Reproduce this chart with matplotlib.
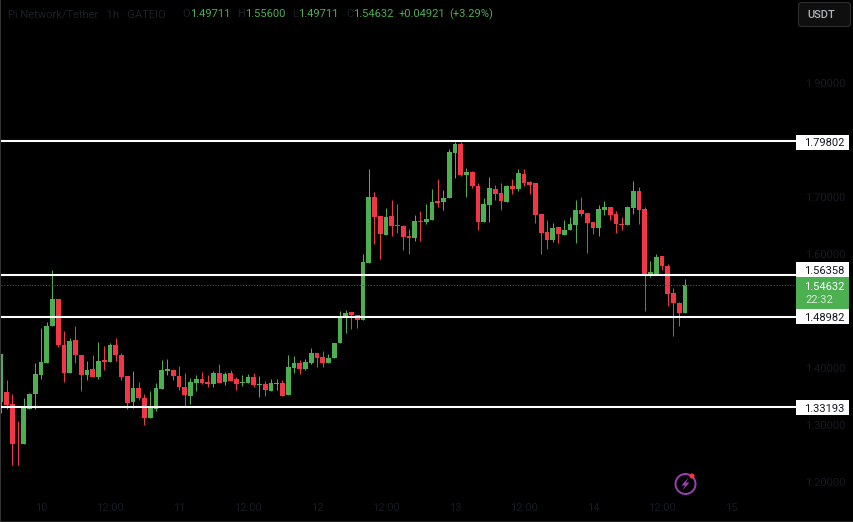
import matplotlib
matplotlib.use("Agg")
import matplotlib.pyplot as plt
import matplotlib.transforms as mtransforms
from matplotlib.patches import Circle, FancyBboxPatch, Polygon, Rectangle

# Hourly candles, first one is the 9th at 17:00
opens = [1.340, 1.357, 1.337, 1.269, 1.266, 1.328, 1.354, 1.388, 1.409, 1.473,
         1.522, 1.440, 1.392, 1.449, 1.422, 1.388, 1.398, 1.384, 1.414, 1.410,
         1.440, 1.422, 1.386, 1.340, 1.365, 1.347, 1.312, 1.328, 1.363, 1.395,
         1.396, 1.386, 1.367, 1.351, 1.374, 1.381, 1.375, 1.372, 1.391, 1.375,
         1.391, 1.381, 1.373, 1.374, 1.384, 1.370, 1.372, 1.360, 1.372, 1.374,
         1.352, 1.400, 1.409, 1.398, 1.409, 1.426, 1.419, 1.409, 1.418, 1.444,
         1.489, 1.498, 1.493, 1.484, 1.585, 1.700, 1.667, 1.634, 1.667, 1.651,
         1.650, 1.632, 1.628, 1.658, 1.657, 1.660, 1.693, 1.691, 1.698, 1.777,
         1.794, 1.740, 1.744, 1.720, 1.656, 1.686, 1.715, 1.708, 1.692, 1.720,
         1.715, 1.741, 1.726, 1.725, 1.670, 1.639, 1.625, 1.648, 1.634, 1.642,
         1.651, 1.678, 1.672, 1.657, 1.646, 1.678, 1.683, 1.671, 1.653, 1.651,
         1.681, 1.711, 1.679, 1.563, 1.566, 1.597, 1.579, 1.532, 1.515, 1.49711]
highs = [1.425, 1.379, 1.354, 1.306, 1.348, 1.356, 1.409, 1.470, 1.481, 1.572,
         1.522, 1.465, 1.453, 1.474, 1.423, 1.412, 1.422, 1.445, 1.439, 1.443,
         1.452, 1.426, 1.386, 1.395, 1.376, 1.354, 1.360, 1.373, 1.414, 1.416,
         1.398, 1.403, 1.391, 1.382, 1.388, 1.393, 1.388, 1.395, 1.407, 1.393,
         1.397, 1.384, 1.388, 1.389, 1.391, 1.386, 1.377, 1.381, 1.381, 1.379,
         1.423, 1.421, 1.414, 1.416, 1.435, 1.427, 1.430, 1.425, 1.444, 1.500,
         1.502, 1.498, 1.493, 1.600, 1.750, 1.709, 1.667, 1.681, 1.695, 1.688,
         1.651, 1.644, 1.669, 1.676, 1.688, 1.715, 1.732, 1.713, 1.785, 1.798,
         1.798, 1.751, 1.746, 1.725, 1.698, 1.735, 1.722, 1.725, 1.722, 1.732,
         1.750, 1.750, 1.729, 1.725, 1.670, 1.660, 1.655, 1.648, 1.660, 1.665,
         1.695, 1.700, 1.672, 1.657, 1.686, 1.693, 1.683, 1.676, 1.665, 1.685,
         1.729, 1.718, 1.683, 1.588, 1.600, 1.597, 1.583, 1.541, 1.516, 1.55600]
lows = [1.321, 1.328, 1.230, 1.230, 1.266, 1.328, 1.328, 1.381, 1.409, 1.473,
        1.436, 1.376, 1.392, 1.408, 1.360, 1.378, 1.384, 1.381, 1.396, 1.410,
        1.412, 1.378, 1.328, 1.330, 1.344, 1.300, 1.312, 1.325, 1.363, 1.388,
        1.379, 1.361, 1.332, 1.337, 1.360, 1.372, 1.367, 1.367, 1.374, 1.370,
        1.377, 1.362, 1.368, 1.374, 1.367, 1.349, 1.351, 1.360, 1.361, 1.351,
        1.352, 1.391, 1.389, 1.396, 1.407, 1.402, 1.402, 1.409, 1.418, 1.444,
        1.461, 1.469, 1.471, 1.484, 1.585, 1.618, 1.592, 1.634, 1.632, 1.637,
        1.607, 1.600, 1.623, 1.623, 1.653, 1.660, 1.683, 1.678, 1.698, 1.734,
        1.737, 1.700, 1.716, 1.642, 1.656, 1.657, 1.695, 1.678, 1.692, 1.706,
        1.711, 1.720, 1.705, 1.655, 1.600, 1.609, 1.621, 1.620, 1.634, 1.642,
        1.620, 1.667, 1.602, 1.635, 1.632, 1.669, 1.660, 1.637, 1.642, 1.651,
        1.671, 1.653, 1.500, 1.560, 1.563, 1.572, 1.509, 1.456, 1.474, 1.49711]
closes = [1.425, 1.335, 1.266, 1.268, 1.331, 1.354, 1.389, 1.410, 1.474, 1.521,
          1.440, 1.392, 1.447, 1.422, 1.388, 1.397, 1.385, 1.412, 1.411, 1.440,
          1.422, 1.385, 1.339, 1.365, 1.347, 1.312, 1.330, 1.365, 1.396, 1.398,
          1.386, 1.367, 1.353, 1.375, 1.381, 1.374, 1.372, 1.391, 1.374, 1.389,
          1.377, 1.372, 1.375, 1.384, 1.370, 1.372, 1.361, 1.374, 1.374, 1.351,
          1.402, 1.409, 1.398, 1.410, 1.426, 1.418, 1.409, 1.418, 1.444, 1.490,
          1.497, 1.493, 1.484, 1.586, 1.700, 1.666, 1.635, 1.665, 1.650, 1.650,
          1.630, 1.628, 1.658, 1.657, 1.662, 1.692, 1.690, 1.699, 1.780, 1.794,
          1.740, 1.744, 1.720, 1.656, 1.688, 1.716, 1.706, 1.693, 1.719, 1.715,
          1.742, 1.725, 1.722, 1.669, 1.637, 1.625, 1.646, 1.635, 1.642, 1.653,
          1.678, 1.671, 1.655, 1.646, 1.679, 1.683, 1.669, 1.653, 1.651, 1.683,
          1.711, 1.678, 1.563, 1.569, 1.595, 1.579, 1.530, 1.514, 1.496, 1.54632]
first_hour = -7

levels = [1.79802, 1.56358, 1.48982, 1.33193]
last_price = 1.54632
countdown = "22:32"

price_ticks = [1.20, 1.30, 1.40, 1.60, 1.70, 1.90]
time_ticks = [0, 12, 24, 36, 48, 60, 72, 84, 96, 108, 120]
time_labels = ["10", "12:00", "11", "12:00", "12", "12:00", "13", "12:00", "14", "12:00", "15"]

GREEN = "#4caf50"
RED = "#f23645"
DIM = "#171a22"
FONT = "Roboto"
FS = 8.0

W, H = 854, 522
plt.rcParams["font.family"] = FONT
fig = plt.figure(figsize=(W / 100, H / 100), dpi=100, facecolor="black")

ax = fig.add_axes([0, 0, 1, 1], facecolor="black")
ax.set_xlim(-41 / 5.75, (W - 41) / 5.75)
ax.set_ylim(2.0467 - H * 0.0017575, 2.0467)
for s in ax.spines.values():
    s.set_visible(False)

ax.yaxis.tick_right()
ax.set_yticks(price_ticks)
ax.set_yticklabels(["%.5f" % p for p in price_ticks], color=DIM, fontsize=FS)
ax.tick_params(axis="y", length=0, pad=-35.5)
ax.set_xticks(time_ticks)
ax.set_xticklabels(time_labels, color=DIM, fontsize=FS)
ax.tick_params(axis="x", length=0, pad=-13.5)

# candles
for n in range(len(opens)):
    hour = first_hour + n
    col = GREEN if closes[n] >= opens[n] else RED
    ax.vlines(hour, lows[n], highs[n], color=col, lw=0.72, zorder=2)
    lo, hi = min(opens[n], closes[n]), max(opens[n], closes[n])
    ax.bar(hour, hi - lo, bottom=lo, width=0.8, color=col, linewidth=0, zorder=3)

# overlay in pixels for the scale boxes, header and icon
ov = fig.add_axes([0, 0, 1, 1], facecolor="none")
ov.set_xlim(0, W)
ov.set_ylim(H, 0)
ov.axis("off")
px_price = mtransforms.blended_transform_factory(ov.transData, ax.transData)

ov.add_patch(Rectangle((0, 0), 1, H, color="#333333", lw=0))
ov.add_patch(Rectangle((W - 1, 0), 1, H, color="#222222", lw=0))
ov.add_patch(Rectangle((0, H - 1), W, 1, color="#222222", lw=0))

ov.plot([1, 795], [last_price, last_price], color="#2c6b30", lw=0.8, ls=(0, (1, 1.5)),
        transform=px_price, zorder=3)

# the scale pushes the boxes apart so they sit a bit off their lines
box_centres = [142, 269, 316.5, 407]
for lev, cy in zip(levels, box_centres):
    ov.plot([1, 796], [lev, lev], color="white", lw=1.5, transform=px_price, zorder=4,
            solid_capstyle="butt")
    ov.add_patch(Rectangle((796, cy - 7.5), 53, 15, facecolor="white", lw=0, zorder=5))
    ov.text(824.5, cy + 0.5, "%.5f" % lev, color="#131722", fontsize=FS, ha="center",
            va="center_baseline", zorder=6)

ov.add_patch(Rectangle((796, 277), 53, 31.5, facecolor=GREEN, lw=0, zorder=5))
ov.text(824.5, 285.5, "%.5f" % last_price, color="white", fontsize=FS, ha="center",
        va="center_baseline", zorder=6)
ov.text(805, 299, countdown, color="#d5ecd6", fontsize=FS, ha="left", va="center_baseline", zorder=6)

# header
ov.text(8, 13, "Pi Network/Tether · 1h · GATEIO", color="#1d2029", fontsize=FS, va="center_baseline")
header = [("O", 182, "1.49711", 190), ("H", 237, "1.55600", 245), ("L", 292, "1.49711", 298),
          ("C", 346, "1.54632", 353)]
for key, kx, val, vx in header:
    ov.text(kx, 13, key, color="#1d2029", fontsize=FS, va="center_baseline")
    ov.text(vx, 13, val, color=GREEN, fontsize=FS, va="center_baseline")
ov.text(399, 13, "+0.04921", color=GREEN, fontsize=FS, va="center_baseline")
ov.text(449, 13, "(+3.29%)", color=GREEN, fontsize=FS, va="center_baseline")

# USDT button
ov.add_patch(FancyBboxPatch((798.5, 2.5), 52, 24, boxstyle="round,pad=0,rounding_size=3",
                            facecolor="#0f0f0f", edgecolor="#2e2e2e", lw=0.8))
ov.text(821, 14.5, "USDT", color="#b2b5be", fontsize=FS, fontweight="medium", ha="center",
        va="center_baseline")

# lightning icon
ov.add_patch(Circle((685.5, 484), 10, facecolor="none", edgecolor="#9c3fb5", lw=1.4, zorder=3))
ov.add_patch(Polygon([(688.5, 477.5), (681.5, 485.5), (685, 485.5), (682.5, 490.5), (689.5, 482.5), (686, 482.5)],
                     closed=True, facecolor="#9c3fb5", lw=0, zorder=3))
ov.add_patch(Circle((692, 476), 2.6, facecolor="#f23645", lw=0, zorder=4))

fig.savefig("out.png", dpi=100, facecolor="black")
